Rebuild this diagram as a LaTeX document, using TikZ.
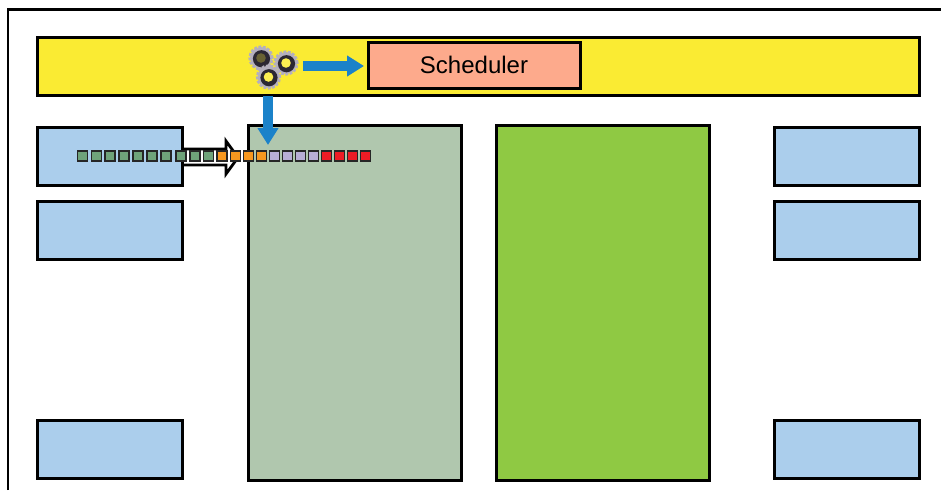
\documentclass[tikz,border=0pt]{standalone}
\usepackage{fontspec}
\setmainfont{Liberation Sans}
\usetikzlibrary{arrows.meta,calc}
\definecolor{cyellow}{HTML}{FAEB33}
\definecolor{csalmon}{HTML}{FDAA8C}
\definecolor{cblue}{HTML}{ABCEEC}
\definecolor{csage}{HTML}{B0C7AE}
\definecolor{cgreen}{HTML}{8FC943}
\definecolor{carrow}{HTML}{1B82C9}
\definecolor{qgreen}{HTML}{6FA37A}
\definecolor{qorange}{HTML}{F7981F}
\definecolor{qpurple}{HTML}{B8AED6}
\definecolor{qred}{HTML}{EE1C25}
\definecolor{gearlight}{HTML}{B4AFBE}
\definecolor{geardark}{HTML}{2B2733}
\tikzset{
  boxbase/.style={draw=black,line width=3pt,anchor=north west,inner sep=0pt,outer sep=0pt},
  panel/.style={boxbase,fill=cblue,minimum width=145pt,minimum height=58pt},
  core/.style={boxbase,minimum width=213pt,minimum height=355pt},
  sq/.style={draw=black!85,line width=1.6pt,minimum size=10pt,inner sep=0pt,outer sep=0pt},
  flow/.style={draw=carrow,line width=10pt,-{Triangle[width=20pt,length=17pt]}},
  gearteeth/.style={draw=gearlight,line width=2.4pt,dash pattern=on 2.8pt off 1.6pt},
}
\newcommand{\geardraw}[2]{%
  \draw[gearteeth] (#1) circle (11.4pt);
  \fill[gearlight] (#1) circle (11pt);
  \fill[geardark] ($(#1)+(0.5,0.7)$) circle (8.6pt);
  \fill[#2] (#1) circle (4.8pt);
}
\begin{document}
\begin{tikzpicture}[x=1pt,y=-1pt]
\useasboundingbox (0,0) rectangle (941,490);
\fill[white] (0,0) rectangle (941,490);
\draw[black,line width=2.6pt] (8,490) -- (8,9.5) -- (941,9.5);

\node[boxbase,fill=cyellow,minimum width=882pt,minimum height=58pt] (bar) at (37,37) {};
\node[boxbase,fill=csalmon,minimum width=212pt,minimum height=46pt,font=\fontsize{24}{28}\selectfont] (sched) at (368,42) {Scheduler};

\node[core,fill=csage] (coreA) at (248,125) {};
\node[core,fill=cgreen] (coreB) at (496,125) {};

% hollow arrow behind the first panel
\filldraw[fill=white,draw=black,line width=2.8pt,line join=miter]
  (170,149) -- (226,149) -- (226,141) -- (238,157.5) -- (226,174) -- (226,165) -- (170,165) -- cycle;

\node[panel] (l1) at (37,127) {};
\node[panel] (l2) at (37,201) {};
\node[panel] (l3) at (37,420) {};
\node[panel] (r1) at (774,127) {};
\node[panel] (r2) at (774,201) {};
\node[panel] (r3) at (774,420) {};

% gears
\coordinate (g1) at (261,58);
\coordinate (g2) at (286,63);
\coordinate (g3) at (268.5,77);
\geardraw{g1}{geardark!70!cyellow}
\geardraw{g2}{cyellow!85!white}
\geardraw{g3}{cyellow!85!white}
\node[inner sep=0pt,minimum width=47pt,minimum height=44pt] (gears) at (273.5,66) {};

% blue arrows
\coordinate (flowstart) at (303,66);
\coordinate (dropstart) at (268,96);
\coordinate (droptip) at (268,145);
\draw[flow,shorten >=4pt] (flowstart) -- (sched.west |- flowstart);
\draw[flow] (dropstart) -- (droptip);

% queue
\foreach \x [count=\i] in {82.5,96.5,110,124,138,152,166,181,195,208.5}
  \node[sq,fill=qgreen] (qg\i) at (\x,156) {};
\foreach \x [count=\i] in {222,235.5,248.5,261.5}
  \node[sq,fill=qorange] (qo\i) at (\x,156) {};
\foreach \x [count=\i] in {274.5,287.5,300.5,313.5}
  \node[sq,fill=qpurple] (qp\i) at (\x,156) {};
\foreach \x [count=\i] in {326.5,339.5,352.5,365.5}
  \node[sq,fill=qred] (qr\i) at (\x,156) {};
\end{tikzpicture}
\end{document}
